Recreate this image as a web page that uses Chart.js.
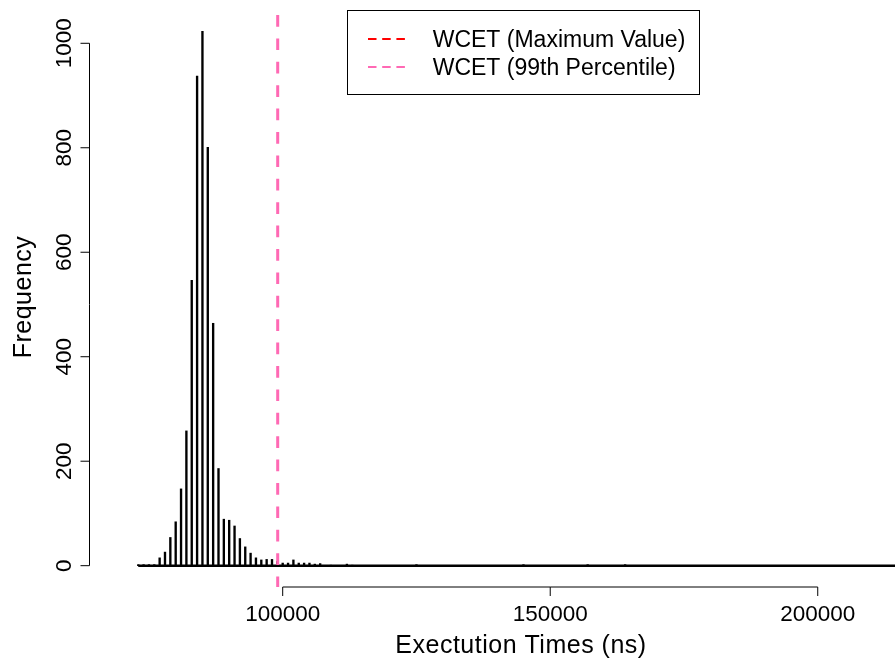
<!DOCTYPE html>
<html>
<head>
<meta charset="utf-8">
<title>WCET</title>
<script src="https://cdn.jsdelivr.net/npm/chart.js@4/dist/chart.umd.min.js"></script>
<style>
    body { margin: 0; background: #ffffff; }
    canvas { display: block; }
</style>
</head>
<body>
<canvas id="grafica" width="895" height="664"></canvas>
<script>
// Tiempos de ejecución (ns) agrupados cada 1000 ns y cuántas veces salió cada uno
const tiempos = [73000, 74000, 75000, 76000, 77000, 78000, 79000, 80000, 81000, 82000,
    83000, 84000, 85000, 86000, 87000, 88000, 89000, 90000, 91000, 92000,
    93000, 94000, 95000, 96000, 97000, 98000, 99000, 100000, 101000, 102000,
    103000, 104000, 105000, 106000, 107000, 109000, 112000, 113000, 125000, 145000,
    157000, 164000];
const frecuencias = [2, 2, 2, 2, 15, 26, 54, 84, 147, 258,
    546, 937, 1023, 801, 464, 186, 89, 87, 76, 52,
    36, 24, 15, 11, 12, 12, 8, 5, 5, 11,
    5, 5, 5, 3, 4, 1, 3, 1, 2, 2,
    2, 2];

// Extremos de las medidas y el percentil 99
const minTiempo = 73000;
const maxTiempo = 265000;
const percentil99 = 99065;

const ticksX = [100000, 150000, 200000];
const ticksY = [0, 200, 400, 600, 800, 1000];
const etiquetasWcet = ['WCET (Maximum Value)', 'WCET (99th Percentile)'];
const tituloX = 'Exectution Times (ns)';
const tituloY = 'Frequency';

const limitesX = { min: 63984, max: 214440 };
const limitesY = { min: -40.8, max: 1061.8 };

const fuente = '"Liberation Sans", Arial, Helvetica, sans-serif';

// Ejes al estilo de R: separados del área y solo entre el primer y último tick
const ejesR = {
    id: 'ejesR',
    afterDraw(chart) {
        const ctx = chart.ctx;
        const x = chart.scales.x;
        const y = chart.scales.y;
        const area = chart.chartArea;
        ctx.save();
        ctx.strokeStyle = '#000';
        ctx.fillStyle = '#000';
        ctx.lineWidth = 1;

        // eje Y
        const ejeY = area.left - 0.5;
        ctx.beginPath();
        ctx.moveTo(ejeY, y.getPixelForValue(ticksY[0]));
        ctx.lineTo(ejeY, y.getPixelForValue(ticksY[ticksY.length - 1]));
        ticksY.forEach((t) => {
            const py = y.getPixelForValue(t);
            ctx.moveTo(ejeY, py);
            ctx.lineTo(ejeY - 9, py);
        });
        ctx.stroke();
        ctx.font = '22.5px ' + fuente;
        ctx.textAlign = 'center';
        ctx.textBaseline = 'alphabetic';
        ticksY.forEach((t) => {
            ctx.save();
            ctx.translate(70.5, y.getPixelForValue(t));
            ctx.rotate(-Math.PI / 2);
            ctx.fillText(String(t), 0, 0);
            ctx.restore();
        });

        // eje X
        const ejeX = area.bottom;
        ctx.beginPath();
        ctx.moveTo(x.getPixelForValue(ticksX[0]), ejeX);
        ctx.lineTo(x.getPixelForValue(ticksX[ticksX.length - 1]), ejeX);
        ticksX.forEach((t) => {
            const px = x.getPixelForValue(t);
            ctx.moveTo(px, ejeX);
            ctx.lineTo(px, ejeX + 9);
        });
        ctx.stroke();
        ticksX.forEach((t) => {
            ctx.fillText(String(t), x.getPixelForValue(t), 621);
        });

        // títulos
        ctx.font = '25px ' + fuente;
        ctx.letterSpacing = '0.5px';
        ctx.fillText(tituloX, 521, 653);
        ctx.save();
        ctx.translate(31, 297);
        ctx.rotate(-Math.PI / 2);
        ctx.fillText(tituloY, 0, 0);
        ctx.restore();
        ctx.restore();
    }
};

// Leyenda con recuadro, arriba al centro
const leyendaR = {
    id: 'leyendaR',
    afterDraw(chart) {
        const ctx = chart.ctx;
        const lineas = chart.data.datasets.filter((d) => d.enLeyenda);
        ctx.save();
        ctx.strokeStyle = '#000';
        ctx.lineWidth = 1;
        ctx.strokeRect(347.5, 10.5, 352, 84);
        ctx.font = '23px ' + fuente;
        ctx.fillStyle = '#000';
        ctx.textAlign = 'left';
        ctx.textBaseline = 'alphabetic';
        lineas.forEach((d, i) => {
            const yl = 39 + i * 28;
            ctx.beginPath();
            ctx.setLineDash([8.5, 5.7]);
            ctx.strokeStyle = d.borderColor;
            ctx.lineWidth = 2;
            ctx.moveTo(368, yl);
            ctx.lineTo(407, yl);
            ctx.stroke();
            ctx.setLineDash([]);
            ctx.fillText(d.label, 432.7, yl + 7.7);
        });
        ctx.restore();
    }
};

const barras = tiempos.map((t, i) => ({ x: t, y: frecuencias[i] }));

function lineaVertical(valor) {
    return [{ x: valor, y: limitesY.max }, { x: valor, y: limitesY.min }];
}

new Chart(document.getElementById('grafica'), {
    type: 'bar',
    data: {
        datasets: [
            {
                type: 'line',
                label: etiquetasWcet[0],
                enLeyenda: true,
                data: lineaVertical(maxTiempo),
                borderColor: '#ff0000',
                borderWidth: 3,
                borderDash: [11.7, 11.7],
                borderDashOffset: 19.4,
                pointRadius: 0,
                order: 0
            },
            {
                type: 'line',
                label: etiquetasWcet[1],
                enLeyenda: true,
                data: lineaVertical(percentil99),
                borderColor: '#ff69b4',
                borderWidth: 3,
                borderDash: [11.7, 11.7],
                borderDashOffset: 19.4,
                pointRadius: 0,
                order: 0
            },
            {
                label: 'frecuencia',
                data: barras,
                backgroundColor: '#000',
                barThickness: 1.7,
                order: 1
            },
            {
                // valores sueltos repartidos por todo el rango
                type: 'line',
                label: 'rango',
                data: [{ x: minTiempo, y: 0 }, { x: maxTiempo, y: 0 }],
                borderColor: '#000',
                borderWidth: 2.5,
                pointRadius: 0,
                order: 2
            }
        ]
    },
    options: {
        responsive: false,
        animation: false,
        devicePixelRatio: 1,
        layout: { padding: { left: 90, right: 0, top: 11, bottom: 77 } },
        plugins: {
            legend: { display: false },
            tooltip: { enabled: false }
        },
        scales: {
            x: { type: 'linear', min: limitesX.min, max: limitesX.max, offset: false, display: false },
            y: { type: 'linear', min: limitesY.min, max: limitesY.max, display: false }
        }
    },
    plugins: [ejesR, leyendaR]
});
</script>
</body>
</html>
